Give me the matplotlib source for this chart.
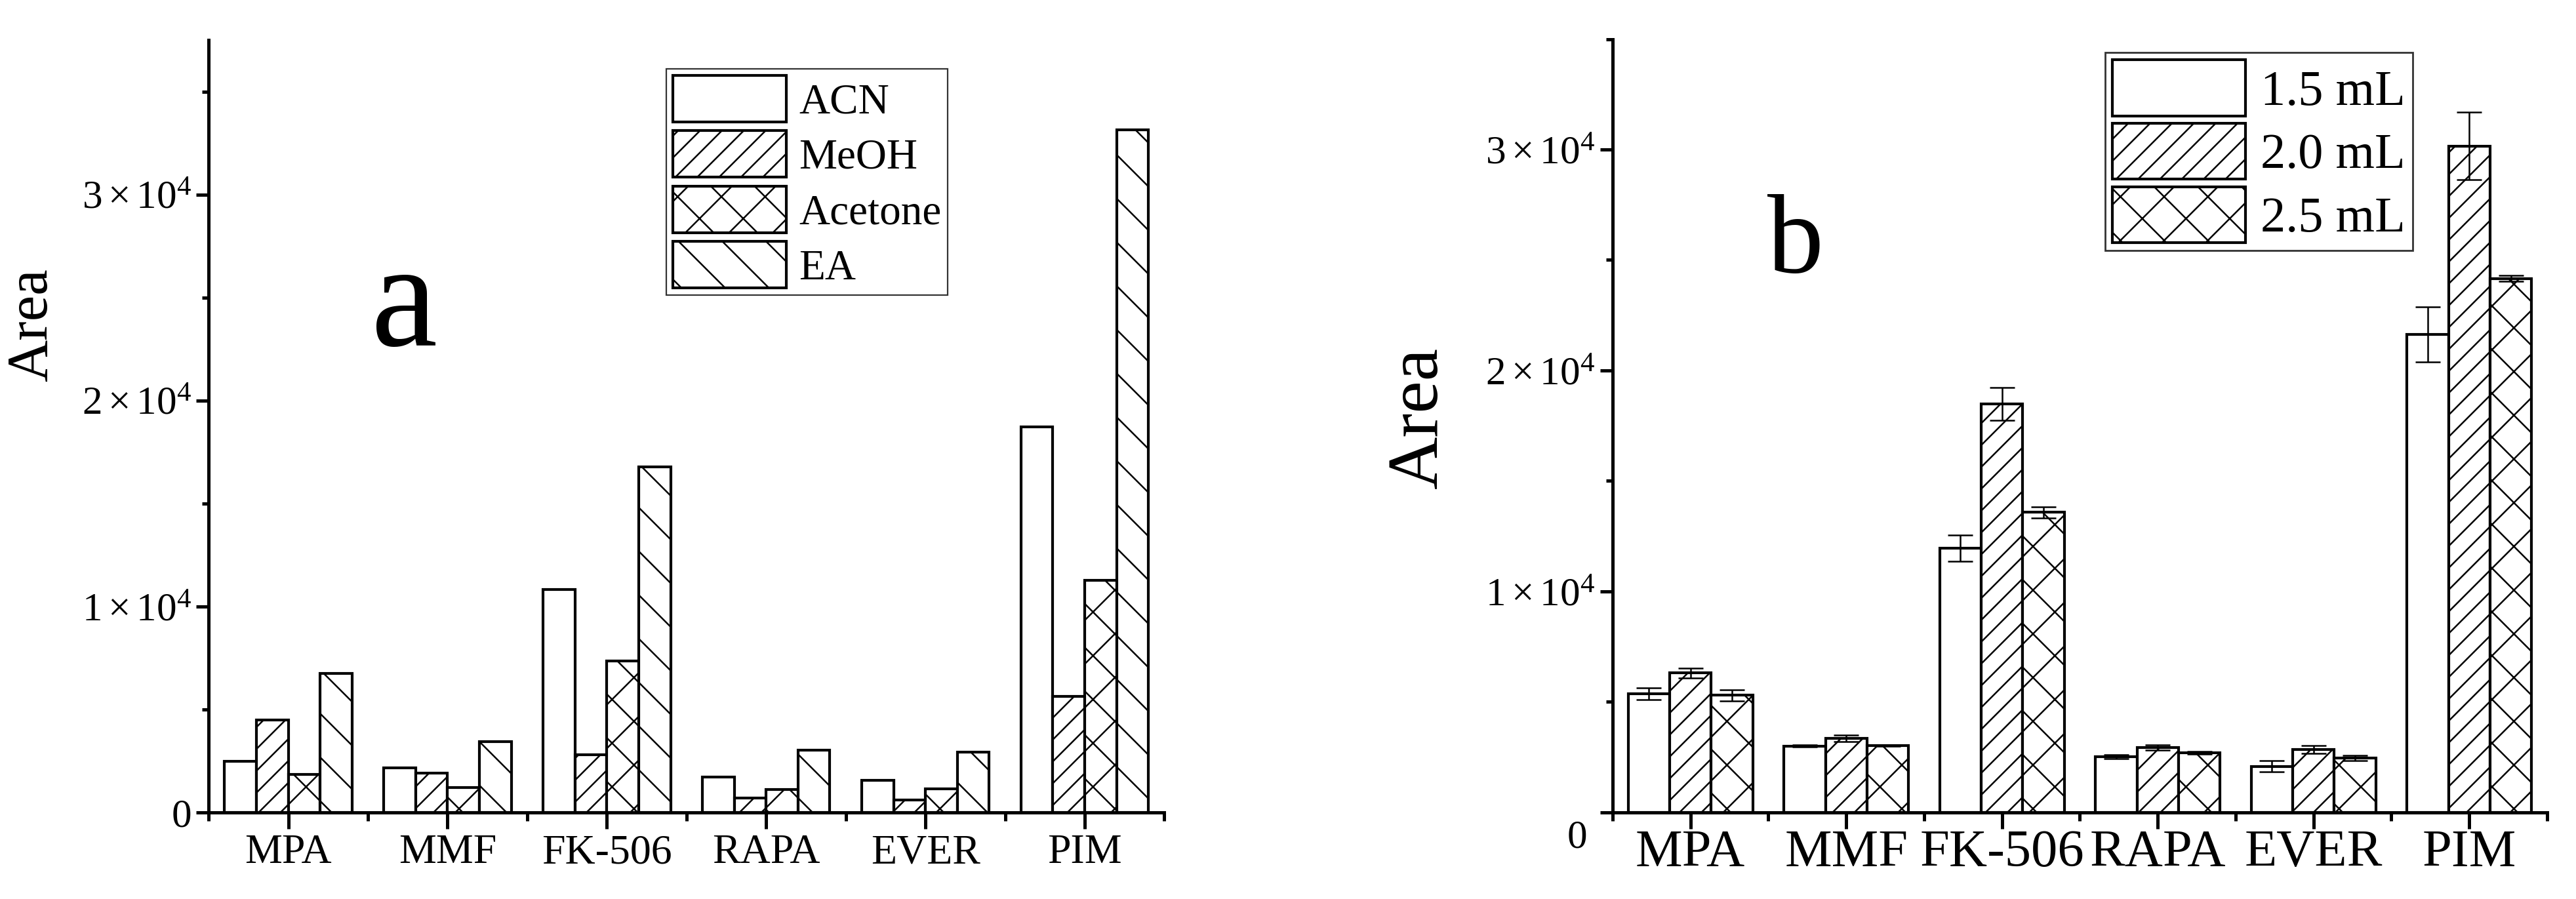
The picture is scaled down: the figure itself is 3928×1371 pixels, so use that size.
import numpy as np
import matplotlib
matplotlib.use("Agg")
import matplotlib.pyplot as plt
import matplotlib.transforms as mtransforms
from matplotlib.ticker import FixedLocator, MultipleLocator

drugs = ["MPA", "MMF", "FK-506", "RAPA", "EVER", "PIM"]

# panel a: extraction solvent
solvents = ["ACN", "MeOH", "Acetone", "EA"]
acn = [2480, 2170, 10830, 1730, 1560, 18710]
meoh = [4480, 1920, 2810, 700, 610, 5630]
acetone = [1840, 1220, 7350, 1110, 1140, 11280]
ea = [6740, 3450, 16780, 3030, 2920, 33150]

# panel b: solvent volume (mean, error)
volumes = ["1.5 mL", "2.0 mL", "2.5 mL"]
vol_15 = [5380, 3010, 11950, 2520, 2080, 21640]
vol_15_err = [270, 50, 600, 90, 250, 1240]
vol_20 = [6310, 3350, 18490, 2940, 2860, 30160]
vol_20_err = [230, 160, 750, 130, 180, 1530]
vol_25 = [5300, 3040, 13580, 2700, 2470, 24160]
vol_25_err = [250, 30, 260, 50, 120, 130]

yticks = [0, 10000, 20000, 30000]
ytick_labels = ["0", r"$1\times10^{4}$", r"$2\times10^{4}$", r"$3\times10^{4}$"]

plt.rcParams["font.family"] = ["Liberation Serif", "DejaVu Serif"]
plt.rcParams["mathtext.fontset"] = "custom"
plt.rcParams["mathtext.rm"] = "Liberation Serif"
plt.rcParams["mathtext.it"] = "Liberation Serif:italic"
plt.rcParams["mathtext.bf"] = "Liberation Serif:bold"
plt.rcParams["hatch.linewidth"] = 0.9
plt.rcParams["hatch.color"] = "black"

DPI = 200
fig = plt.figure(figsize=(3928 / DPI, 1371 / DPI), dpi=DPI)
ax_a = fig.add_axes([0.081, 0.0963, 0.371, 0.8592])
ax_b = fig.add_axes([0.626, 0.0963, 0.3628, 0.8603])

x = np.arange(len(drugs))


def style_axes(ax, ymax, xfs, yfs, xpad):
    for side in ["top", "right"]:
        ax.spines[side].set_visible(False)
    for side in ["left", "bottom"]:
        ax.spines[side].set_linewidth(1.8)
    ax.set_xlim(-0.5, len(drugs) - 0.5)
    ax.set_ylim(0, ymax)
    ax.set_xticks(x)
    ax.set_xticklabels(drugs, fontsize=xfs)
    ax.xaxis.set_minor_locator(FixedLocator(np.arange(-0.5, len(drugs), 1.0)))
    ax.set_yticks(yticks)
    ax.set_yticklabels(ytick_labels, fontsize=yfs)
    ax.yaxis.set_minor_locator(MultipleLocator(5000))
    ax.tick_params(axis="x", which="major", direction="out", length=9, width=1.8, pad=xpad)
    ax.tick_params(axis="x", which="minor", direction="out", length=4.5, width=1.8)
    ax.tick_params(axis="y", which="major", direction="out", length=7, width=1.8, pad=2.5)
    ax.tick_params(axis="y", which="minor", direction="out", length=3.6, width=1.8)


# ---- panel a
w_a = 0.2
hatch_a = ["", "//", "x", "\\"]
data_a = [acn, meoh, acetone, ea]
for i, (vals, lab) in enumerate(zip(data_a, solvents)):
    ax_a.bar(x + (i - 1.5) * w_a, vals, width=w_a, facecolor="white",
             edgecolor="black", linewidth=1.5, hatch=hatch_a[i], label=lab)
style_axes(ax_a, 37500, 23, 22, 3)
ax_a.set_ylabel("Area", fontsize=32)
ax_a.yaxis.set_label_coords(-0.184, 0.631)
ax_a.yaxis.label.set_va("center")
ax_a.text(617 / 3928, 1 - 472 / 1371, "a", transform=fig.transFigure,
          fontsize=82, ha="center", va="center")
ax_a.legend(loc="upper left", bbox_to_anchor=(1016 / 3928, 1 - 105 / 1371),
            bbox_transform=fig.transFigure, fontsize=23.5, frameon=True,
            fancybox=False, edgecolor="black", handlelength=2.65,
            handleheight=1.3, labelspacing=0.2, handletextpad=0.3,
            borderpad=0.15, borderaxespad=0).get_frame().set_linewidth(0.8)

# ---- panel b
w_b = 0.8 / 3
hatch_b = ["", "//", "x"]
data_b = [(vol_15, vol_15_err), (vol_20, vol_20_err), (vol_25, vol_25_err)]
for i, ((vals, err), lab) in enumerate(zip(data_b, volumes)):
    ax_b.bar(x + (i - 1) * w_b, vals, width=w_b, facecolor="white",
             edgecolor="black", linewidth=1.5, hatch=hatch_b[i], label=lab)
    ax_b.errorbar(x + (i - 1) * w_b, vals, yerr=err, fmt="none", ecolor="black",
                  elinewidth=0.9, capsize=7, capthick=0.9)
style_axes(ax_b, 35000, 29, 22, 0.5)
ax_b.set_yticklabels([""] + ytick_labels[1:], fontsize=22)
trans = mtransforms.blended_transform_factory(ax_b.transAxes, ax_b.transData)
ax_b.text(-0.038, -1160, "0", transform=trans, fontsize=22, ha="center", va="center")
ax_b.set_ylabel("Area", fontsize=40)
ax_b.yaxis.set_label_coords(-0.207, 0.51)
ax_b.yaxis.label.set_va("center")
ax_b.text(2738 / 3928, 1 - 374 / 1371, "b", transform=fig.transFigure,
          fontsize=62, ha="center", va="center")
ax_b.legend(loc="upper left", bbox_to_anchor=(3210 / 3928, 1 - 80 / 1371),
            bbox_transform=fig.transFigure, fontsize=27.5, frameon=True,
            fancybox=False, edgecolor="black", handlelength=2.65,
            handleheight=1.34, labelspacing=0.15, handletextpad=0.3,
            borderpad=0.15, borderaxespad=0).get_frame().set_linewidth(1.0)

fig.savefig("out.png", dpi=DPI, facecolor="white")
